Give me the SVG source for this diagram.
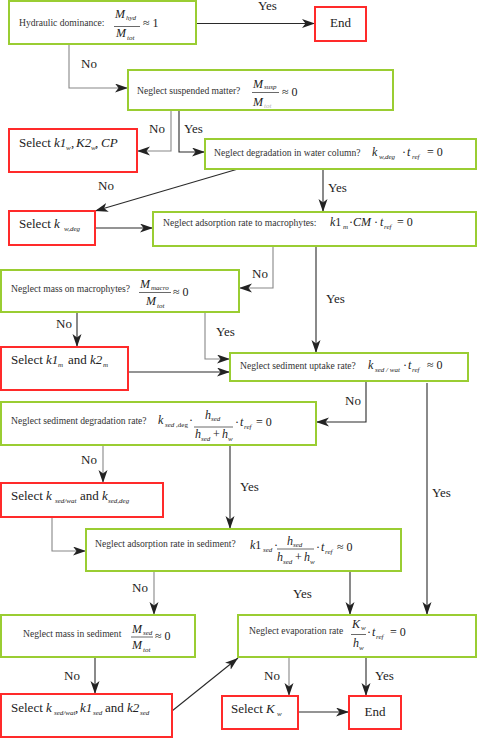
<svg xmlns="http://www.w3.org/2000/svg" width="478" height="738" viewBox="0 0 478 738">
<style>
text{font-family:"Liberation Serif","Times New Roman",serif;fill:#222}
.q{fill:#fff;stroke:#9acd32;stroke-width:2}
.r{fill:#fff;stroke:#ff2a2a;stroke-width:2}
.t{font-size:9.6px;fill:#333}
.sel{font-size:13px}
.lbl{font-size:13px}
.m{font-size:12px;font-style:italic}
.s{font-size:7px;font-style:italic}
.op{font-size:12px}
.bar{stroke:#444;stroke-width:0.8}
.c{fill:none;stroke:#2a2a2a;stroke-width:1.1;marker-end:url(#ah)}
.g{stroke:#888}
</style>
<defs>
<marker id="ah" markerUnits="userSpaceOnUse" markerWidth="14" markerHeight="10" refX="13" refY="4.5" orient="auto">
<path d="M0,0 L13,4.5 L0,9 L3.5,4.5 z" fill="#222"/>
</marker>
</defs>
<rect width="478" height="738" fill="#fff"/>

<g id="connectors">
<path class="c" d="M196,23.5 H315"/>
<path class="c g" d="M69,44 V88 H128"/>
<path class="c g" d="M171,110 V151 H137"/>
<path class="c" d="M179,110 V152 H205"/>
<path class="c" d="M238,169 L95,211"/>
<path class="c" d="M323,169 V212"/>
<path class="c" d="M95,228 H153"/>
<path class="c g" d="M273,246 V288 H239"/>
<path class="c" d="M316,246 V353"/>
<path class="c" d="M77,312 V347"/>
<path class="c g" d="M205,312 V359 H230"/>
<path class="c" d="M128,372 H230"/>
<path class="c" d="M366,381 V422 H316"/>
<path class="c" d="M427,383 V615"/>
<path class="c g" d="M103,445 V483"/>
<path class="c" d="M230,445 V529"/>
<path class="c g" d="M52,517 V551 H86"/>
<path class="c g" d="M154,571 V615"/>
<path class="c" d="M350,571 V615"/>
<path class="c" d="M95,657 V694"/>
<path class="c" d="M172,711 L238,658"/>
<path class="c g" d="M289,657 V696"/>
<path class="c" d="M366,657 V696"/>
<path class="c" d="M298,712 H349"/>
</g>

<g id="labels">
<text class="lbl" x="258" y="10">Yes</text>
<text class="lbl" x="81" y="68">No</text>
<text class="lbl" x="149" y="133">No</text>
<text class="lbl" x="184" y="133">Yes</text>
<text class="lbl" x="98" y="190">No</text>
<text class="lbl" x="328" y="192">Yes</text>
<text class="lbl" x="252" y="278">No</text>
<text class="lbl" x="326" y="303">Yes</text>
<text class="lbl" x="56" y="328">No</text>
<text class="lbl" x="216" y="336">Yes</text>
<text class="lbl" x="345" y="405">No</text>
<text class="lbl" x="432" y="497">Yes</text>
<text class="lbl" x="81" y="464">No</text>
<text class="lbl" x="240" y="491">Yes</text>
<text class="lbl" x="132" y="592">No</text>
<text class="lbl" x="293" y="598">Yes</text>
<text class="lbl" x="64" y="680">No</text>
<text class="lbl" x="264" y="680">No</text>
<text class="lbl" x="375" y="680">Yes</text>
</g>

<g id="n1">
<rect class="q" x="9" y="1" width="187" height="43"/>
<text class="t" x="19" y="25.5">Hydraulic dominance:</text>
<text class="m" x="115" y="18">M</text><text class="s" x="126" y="20">hyd</text>
<line class="bar" x1="114" y1="26.5" x2="140" y2="26.5"/>
<text class="m" x="116" y="37">M</text><text class="s" x="127" y="40">tot</text>
<text class="op" x="143" y="27">≈ 1</text>
</g>

<g id="n_end1">
<rect class="r" x="315" y="7" width="51" height="34"/>
<text class="sel" x="340.5" y="27" text-anchor="middle">End</text>
</g>

<g id="n2">
<rect class="q" x="128" y="70" width="265" height="40"/>
<text class="t" x="137" y="94">Neglect suspended matter?</text>
<text class="m" x="253" y="88">M</text><text class="s" x="264" y="89">susp</text>
<line class="bar" x1="252" y1="92.5" x2="279" y2="92.5"/>
<text class="m" x="253" y="106">M</text><text class="s" x="264" y="108" opacity="0.35">tot</text>
<text class="op" x="282" y="96">≈ 0</text>
</g>

<g id="n_sel1">
<rect class="r" x="9" y="129" width="128" height="43"/>
<text class="sel" x="19" y="147">Select <tspan font-style="italic">k1</tspan></text>
<text class="s" x="66" y="150">w</text>
<text class="sel" x="71" y="147">,</text>
<text class="sel" x="76" y="147" font-style="italic">K2</text>
<text class="s" x="91" y="150">w</text>
<text class="sel" x="95" y="147">,</text>
<text class="sel" x="101" y="147" font-style="italic">CP</text>
</g>

<g id="n3">
<rect class="q" x="205" y="139" width="271" height="30"/>
<text class="t" x="214" y="156">Neglect degradation in water column?</text>
<text class="m" x="372" y="156">k</text><text class="s" x="379" y="159" font-style="normal">w,deg</text>
<text class="op" x="402" y="156">·</text>
<text class="m" x="407" y="156">t</text><text class="s" x="412" y="159">ref</text>
<text class="op" x="427" y="156">= 0</text>
</g>

<g id="n_sel2">
<rect class="r" x="9" y="211" width="86" height="34"/>
<text class="sel" x="19" y="228">Select <tspan font-style="italic">k</tspan></text>
<text class="s" x="64" y="231">w,deg</text>
</g>

<g id="n4">
<rect class="q" x="153" y="212" width="323" height="34"/>
<text class="t" x="163" y="226">Neglect adsorption rate to macrophytes:</text>
<text class="m" x="330" y="226">k<tspan font-style="normal">1</tspan></text><text class="s" x="343" y="229">m</text>
<text class="op" x="349" y="226">·<tspan font-style="italic">CM</tspan> ·</text>
<text class="m" x="380" y="226">t</text><text class="s" x="384" y="229">ref</text>
<text class="op" x="397" y="226">= 0</text>
</g>

<g id="n5">
<rect class="q" x="1" y="270" width="238" height="42"/>
<text class="t" x="11" y="292">Neglect mass on macrophytes?</text>
<text class="m" x="140" y="288">M</text><text class="s" x="151" y="290">macro</text>
<line class="bar" x1="139" y1="292.5" x2="171" y2="292.5"/>
<text class="m" x="146" y="305">M</text><text class="s" x="157" y="308">tot</text>
<text class="op" x="173" y="296">≈ 0</text>
</g>

<g id="n_sel3">
<rect class="r" x="1" y="347" width="127" height="43"/>
<text class="sel" x="11" y="364">Select <tspan font-style="italic">k1</tspan></text>
<text class="s" x="58" y="367">m</text>
<text class="sel" x="68" y="364">and <tspan font-style="italic">k2</tspan></text>
<text class="s" x="103" y="367">m</text>
</g>

<g id="n7">
<rect class="q" x="230" y="353" width="238" height="28"/>
<text class="t" x="240" y="369">Neglect sediment uptake rate?</text>
<text class="m" x="368" y="369">k</text><text class="s" x="375" y="372">sed / wat</text>
<text class="op" x="403" y="369">·</text>
<text class="m" x="408" y="369">t</text><text class="s" x="412" y="372">ref</text>
<text class="op" x="427" y="369">≈ 0</text>
</g>

<g id="n8">
<rect class="q" x="1" y="402" width="315" height="43"/>
<text class="t" x="11" y="424">Neglect sediment degradation rate?</text>
<text class="m" x="158" y="424">k</text><text class="s" x="165" y="427">sed ,<tspan font-style="normal">deg</tspan></text>
<text class="op" x="189" y="424">·</text>
<text class="m" x="205" y="419">h</text><text class="s" x="211" y="421">sed</text>
<line class="bar" x1="194" y1="427" x2="233" y2="427"/>
<text class="m" x="195" y="438">h</text><text class="s" x="201" y="441">sed</text>
<text class="op" x="213" y="438">+</text>
<text class="m" x="222" y="438">h</text><text class="s" x="228" y="441">w</text>
<text class="op" x="235" y="426">·</text>
<text class="m" x="240" y="426">t</text><text class="s" x="244" y="429">ref</text>
<text class="op" x="256" y="426">= 0</text>
</g>

<g id="n_sel4">
<rect class="r" x="1" y="483" width="162" height="34"/>
<text class="sel" x="11" y="500">Select <tspan font-style="italic">k</tspan></text>
<text class="s" x="55" y="503">sed/wat</text>
<text class="sel" x="80" y="500">and <tspan font-style="italic">k</tspan></text>
<text class="s" x="108" y="503">sed,deg</text>
</g>

<g id="n9">
<rect class="q" x="86" y="529" width="315" height="42"/>
<text class="t" x="95" y="547">Neglect adsorption rate in sediment?</text>
<text class="m" x="250" y="549">k<tspan font-style="normal">1</tspan></text><text class="s" x="263" y="552">sed</text>
<text class="op" x="274" y="549">·</text>
<text class="m" x="287" y="545">h</text><text class="s" x="293" y="547">sed</text>
<line class="bar" x1="277" y1="549" x2="314" y2="549"/>
<text class="m" x="277" y="561">h</text><text class="s" x="283" y="564">sed</text>
<text class="op" x="295" y="561">+</text>
<text class="m" x="304" y="561">h</text><text class="s" x="310" y="564">w</text>
<text class="op" x="316" y="551">·</text>
<text class="m" x="321" y="551">t</text><text class="s" x="325" y="554">ref</text>
<text class="op" x="337" y="551">≈ 0</text>
</g>

<g id="n10">
<rect class="q" x="1" y="615" width="194" height="42"/>
<text class="t" x="23" y="637">Neglect mass in sediment</text>
<text class="m" x="132" y="633">M</text><text class="s" x="143" y="635">sed</text>
<line class="bar" x1="131" y1="637" x2="153" y2="637"/>
<text class="m" x="132" y="649">M</text><text class="s" x="143" y="652">tot</text>
<text class="op" x="155" y="640">≈ 0</text>
</g>

<g id="n_sel5">
<rect class="r" x="1" y="694" width="171" height="43"/>
<text class="sel" x="11" y="712">Select <tspan font-style="italic">k</tspan></text>
<text class="s" x="54" y="715">sed/wat</text>
<text class="sel" x="75" y="712">,</text>
<text class="sel" x="80" y="712" font-style="italic">k1</text>
<text class="s" x="93" y="715">sed</text>
<text class="sel" x="105" y="712">and <tspan font-style="italic">k2</tspan></text>
<text class="s" x="140" y="715">sed</text>
</g>

<g id="n11">
<rect class="q" x="238" y="615" width="238" height="42"/>
<text class="t" x="249" y="634">Neglect evaporation rate</text>
<text class="m" x="352" y="628">K</text><text class="s" x="361" y="630">w</text>
<line class="bar" x1="351" y1="634.5" x2="366" y2="634.5"/>
<text class="m" x="353" y="647">h</text><text class="s" x="359" y="650">w</text>
<text class="op" x="367" y="636">·</text>
<text class="m" x="372" y="636">t</text><text class="s" x="376" y="639">ref</text>
<text class="op" x="390" y="636">= 0</text>
</g>

<g id="n_selK">
<rect class="r" x="222" y="696" width="76" height="33"/>
<text class="sel" x="231" y="713">Select <tspan font-style="italic">K</tspan></text>
<text class="s" x="277" y="716">w</text>
</g>

<g id="n_end2">
<rect class="r" x="349" y="696" width="52" height="33"/>
<text class="sel" x="375" y="716" text-anchor="middle">End</text>
</g>
</svg>
